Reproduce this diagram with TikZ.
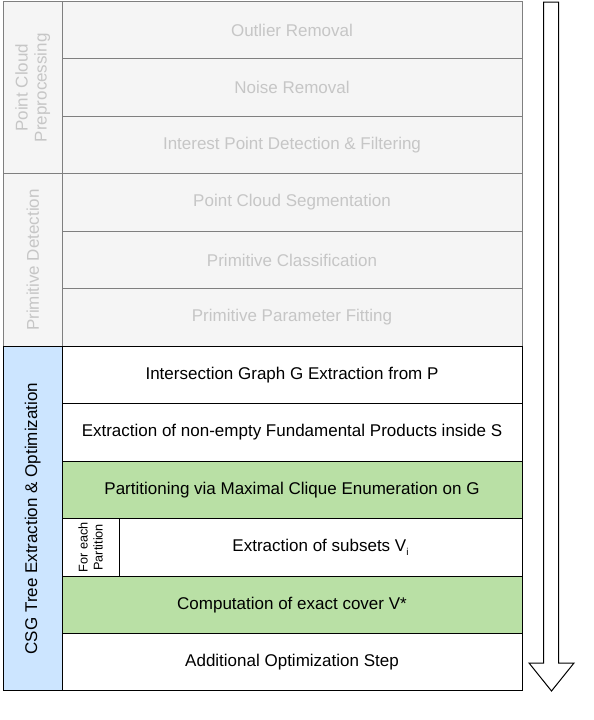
\documentclass[tikz,border=0pt]{standalone}
\usepackage{fontspec}
\setmainfont{Liberation Sans}
\definecolor{grayfill}{HTML}{F5F5F5}
\definecolor{grayline}{HTML}{7F7F7F}
\definecolor{graytext}{HTML}{C6C6C6}
\definecolor{bluefill}{HTML}{CCE5FF}
\definecolor{greenfill}{HTML}{B9E0A5}
\tikzset{
  cell/.style={draw, line width=1pt, minimum width=460pt, minimum height=57.45pt,
    inner sep=0pt, outer sep=0pt, anchor=north west, font=\fontsize{17}{20}\selectfont},
  greycell/.style={cell, draw=grayline, fill=grayfill, text=graytext},
  whitecell/.style={cell, fill=white},
  greencell/.style={cell, fill=greenfill},
  sidecell/.style={draw, line width=1pt, rotate=90, minimum height=58.5pt,
    inner sep=0pt, outer sep=0pt, anchor=center, align=center,
    font=\fontsize{17}{19}\selectfont},
  greyside/.style={sidecell, draw=grayline, fill=grayfill, text=graytext},
  blueside/.style={sidecell, fill=bluefill},
  bigarrow/.style={draw, line width=1pt, fill=white, line join=miter}
}
\begin{document}
\begin{tikzpicture}[x=1pt,y=-1pt]
\useasboundingbox (0,0) rectangle (594,720);
% grey part
\node[greyside, minimum width=172.35pt] (pcp) at (32.75,87.68) {Point Cloud\\Preprocessing};
\node[greyside, minimum width=172.35pt] (pd) at (32.75,260.03) {Primitive Detection};
\node[greycell] (r0) at (62,1.5) {Outlier Removal};
\node[greycell] (r1) at (62,58.95) {Noise Removal};
\node[greycell] (r2) at (62,116.4) {Interest Point Detection \& Filtering};
\node[greycell] (r3) at (62,173.85) {Point Cloud Segmentation};
\node[greycell] (r4) at (62,231.3) {Primitive Classification};
\node[greycell] (r5) at (62,288.75) {Primitive Parameter Fitting};
% CSG part
\node[blueside, minimum width=344.7pt] (csg) at (32.75,518.55) {CSG Tree Extraction \& Optimization};
\node[whitecell] (r6) at (62,346.2) {Intersection Graph G Extraction from P};
\node[whitecell] (r7) at (62,403.65) {Extraction of non-empty Fundamental Products inside S};
\node[greencell] (r8) at (62,461.1) {Partitioning via Maximal Clique Enumeration on G};
\node[sidecell, fill=white, minimum width=57.45pt, minimum height=57pt,
  font=\fontsize{12.7}{15}\selectfont] (fe) at (90.5,547.28) {For each\\Partition};
\node[whitecell, minimum width=403pt] (r9) at (119,518.55) {Extraction of subsets V\raisebox{-3.5pt}{\fontsize{10}{10}\selectfont i}};
\node[greencell] (r10) at (62,576) {Computation of exact cover V*};
\node[whitecell] (r11) at (62,633.45) {Additional Optimization Step};
% process arrow
\draw[bigarrow] (543.5,2) -- (543.5,663) -- (529,663) -- (551.5,691) -- (574,663)
  -- (558.5,663) -- (558.5,2) -- cycle;
\end{tikzpicture}
\end{document}
